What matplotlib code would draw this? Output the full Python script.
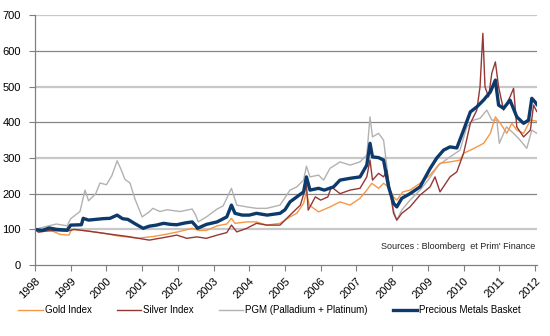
import matplotlib.pyplot as plt

plt.rcParams['font.family'] = ['Liberation Sans', 'DejaVu Sans']

# time in fractional years, values indexed to 100 at start of 1998
gold_t = [1998.0, 1998.2, 1998.5, 1998.7, 1998.95, 1999.03, 1999.35, 1999.73, 2000.0,
          2000.3, 2000.66, 2000.9, 2001.03, 2001.3, 2001.6, 2002.0, 2002.4, 2002.6,
          2002.8, 2003.1, 2003.37, 2003.5, 2003.6, 2003.93, 2004.2, 2004.49, 2004.86,
          2005.14, 2005.33, 2005.52, 2005.6, 2005.68, 2005.94, 2006.26, 2006.54,
          2006.82, 2007.1, 2007.29, 2007.43, 2007.62, 2007.76, 2007.9, 2008.04,
          2008.13, 2008.3, 2008.5, 2008.78, 2009.06, 2009.34, 2009.62, 2009.9, 2010.0,
          2010.19, 2010.37, 2010.56, 2010.75, 2010.89, 2011.03, 2011.21, 2011.35,
          2011.49, 2011.68, 2011.87, 2012.05]
gold_v = [100, 95, 95, 86, 84, 100, 97, 92, 88,
          82, 78, 75, 77, 80, 85, 93, 103, 97,
          97, 110, 115, 131, 117, 121, 121, 112, 117,
          135, 145, 173, 205, 168, 149, 163, 177,
          168, 187, 210, 229, 215, 229, 219, 191,
          182, 205, 210, 229, 252, 285, 289, 294, 313,
          322, 331, 341, 369, 415, 397, 369, 397,
          378, 369, 406, 403]

silver_t = [1998.0, 1998.1, 1998.4, 1998.9, 1999.1, 1999.5, 2000.0, 2000.6, 2000.9,
            2001.2, 2001.6, 2001.97, 2002.25, 2002.53, 2002.8, 2003.1, 2003.37, 2003.5,
            2003.65, 2003.93, 2004.2, 2004.49, 2004.86, 2005.14, 2005.43, 2005.6,
            2005.65, 2005.85, 2006.0, 2006.2, 2006.3, 2006.54, 2006.82, 2007.1, 2007.29,
            2007.38, 2007.45, 2007.62, 2007.76, 2007.85, 2007.95, 2008.04, 2008.13,
            2008.27, 2008.5, 2008.78, 2009.06, 2009.2, 2009.34, 2009.62, 2009.81,
            2010.0, 2010.19, 2010.37, 2010.46, 2010.54, 2010.6, 2010.7, 2010.79,
            2010.89, 2010.98, 2011.12, 2011.3, 2011.4, 2011.49, 2011.68, 2011.87,
            2011.96, 2012.05]
silver_v = [100, 92, 97, 95, 100, 95, 88, 80, 75,
            70, 77, 84, 75, 79, 75, 84, 91, 112,
            93, 103, 117, 112, 112, 140, 168, 224,
            154, 191, 182, 191, 219, 200, 210, 215, 247,
            294, 238, 257, 247, 266, 200, 145, 126,
            145, 163, 196, 219, 247, 205, 247, 261,
            313, 397, 434, 499, 649, 499, 471, 537,
            569, 499, 434, 471, 495, 387, 359, 378,
            448, 430]

pgm_t = [1998.0, 1998.3, 1998.6, 1998.9, 1999.0, 1999.26, 1999.4, 1999.5, 1999.6, 1999.7,
         1999.82, 2000.0, 2000.15, 2000.3, 2000.4, 2000.52, 2000.66, 2000.8, 2000.9,
         2001.0, 2001.2, 2001.3, 2001.5, 2001.7, 2002.06, 2002.4, 2002.5, 2002.57,
         2002.8, 2003.1, 2003.27, 2003.5, 2003.65, 2003.93, 2004.2, 2004.49, 2004.86,
         2005.14, 2005.33, 2005.52, 2005.6, 2005.7, 2005.94, 2006.08, 2006.26, 2006.54,
         2006.82, 2007.1, 2007.29, 2007.38, 2007.45, 2007.62, 2007.76, 2007.9, 2008.04,
         2008.13, 2008.27, 2008.5, 2008.78, 2009.06, 2009.3, 2009.62, 2009.9, 2010.09,
         2010.28, 2010.46, 2010.65, 2010.79, 2010.93, 2011.0, 2011.2, 2011.4, 2011.58,
         2011.77, 2011.91, 2012.05]
pgm_v = [100, 108, 115, 110, 130, 150, 210, 180, 190, 200,
         230, 225, 250, 292, 270, 240, 230, 185, 160,
         135, 149, 159, 150, 155, 150, 157, 140, 121,
         135, 157, 166, 215, 168, 163, 159, 159, 168,
         210, 219, 238, 277, 247, 252, 238, 271, 289,
         280, 289, 308, 415, 359, 369, 350, 238, 154,
         126, 154, 182, 210, 245, 280, 303, 322, 387,
         406, 411, 434, 406, 406, 341, 387, 369, 350,
         327, 378, 369]

basket_t = [1998.0, 1998.2, 1998.4, 1998.6, 1998.9, 1999.0, 1999.3, 1999.35, 1999.5, 1999.7,
            1999.9, 2000.1, 2000.3, 2000.45, 2000.6, 2000.85, 2001.03, 2001.2, 2001.4,
            2001.6, 2001.8, 2001.97, 2002.2, 2002.4, 2002.5, 2002.55, 2002.8, 2003.1,
            2003.37, 2003.5, 2003.6, 2003.8, 2004.0, 2004.2, 2004.5, 2004.86, 2005.0,
            2005.14, 2005.33, 2005.52, 2005.6, 2005.7, 2005.94, 2006.1, 2006.36, 2006.54,
            2006.82, 2007.1, 2007.29, 2007.38, 2007.45, 2007.62, 2007.76, 2007.9, 2008.04,
            2008.13, 2008.27, 2008.5, 2008.78, 2009.06, 2009.25, 2009.44, 2009.62,
            2009.81, 2010.0, 2010.19, 2010.37, 2010.56, 2010.75, 2010.89, 2010.98,
            2011.12, 2011.3, 2011.49, 2011.68, 2011.82, 2011.91, 2012.0, 2012.05]
basket_v = [100, 97, 104, 100, 98, 112, 113, 131, 126, 128,
            130, 131, 140, 130, 128, 113, 103, 109, 112,
            117, 114, 113, 118, 121, 110, 103, 114, 121,
            135, 168, 145, 140, 140, 145, 140, 145, 155,
            177, 191, 205, 247, 210, 215, 210, 219, 238,
            243, 247, 280, 341, 303, 301, 294, 219, 173,
            163, 187, 200, 219, 270, 300, 322, 331,
            328, 378, 429, 443, 462, 485, 518, 448,
            439, 462, 415, 397, 406, 467, 457, 450]

years = list(range(1998, 2013))
y_ticks = [0, 100, 200, 300, 400, 500, 600, 700]

fig = plt.figure(figsize=(5.5, 3.36), dpi=100)
ax = fig.add_axes([0.0636, 0.211, 0.9124, 0.744])

# alternating gridline shades as in the original
for i, yv in enumerate(y_ticks[1:]):
    if i % 2 == 0:
        ax.axhline(yv, color='#c8c8c8', lw=1.6, zorder=0)
    else:
        ax.axhline(yv, color='#858585', lw=0.9, zorder=0)

l_pgm, = ax.plot(pgm_t, pgm_v, color='#b2b2b2', lw=1.0, label='PGM (Palladium + Platinum)')
l_gold, = ax.plot(gold_t, gold_v, color='#f79646', lw=1.0, label='Gold Index')
l_silver, = ax.plot(silver_t, silver_v, color='#953735', lw=1.0, label='Silver Index')
l_basket, = ax.plot(basket_t, basket_v, color='#0d3a6b', lw=2.4, label='Precious Metals Basket')

ax.set_xlim(1998, 2012.05)
ax.set_ylim(0, 700)
ax.set_xticks(years)
ax.set_xticklabels([str(y) for y in years], rotation=45, ha='right', rotation_mode='anchor')
ax.set_yticks(y_ticks)
ax.tick_params(axis='both', labelsize=8, color='#808080', length=4, width=0.8)
ax.tick_params(axis='y', pad=6)

for s in ['top', 'right']:
    ax.spines[s].set_visible(False)
for s in ['left', 'bottom']:
    ax.spines[s].set_color('#808080')
    ax.spines[s].set_linewidth(0.9)

ax.text(0.689, 0.076, "Sources : Bloomberg  et Prim' Finance", transform=ax.transAxes,
        fontsize=6.5, color='#222222', va='center')

fig.legend(handles=[l_gold, l_silver, l_pgm, l_basket], loc='center',
           bbox_to_anchor=(0.49, 0.077), ncol=4, frameon=False, fontsize=7,
           handlelength=2.5, handletextpad=0.2, columnspacing=2.6)

fig.savefig('out.png', dpi=100)
